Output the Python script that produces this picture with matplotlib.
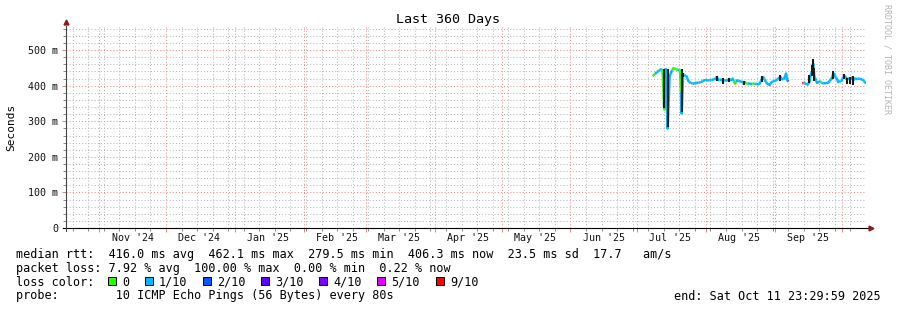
import numpy as np
import pandas as pd
import matplotlib
matplotlib.use("Agg")
import matplotlib.pyplot as plt
import matplotlib.dates as mdates
from matplotlib.ticker import MultipleLocator, NullFormatter
from matplotlib.collections import LineCollection
from matplotlib.patches import Rectangle
from datetime import datetime

plt.rcParams['font.family'] = 'DejaVu Sans Mono'

# time range of the graph
start = datetime(2024, 10, 16, 23, 29, 59)
end = datetime(2025, 10, 11, 23, 29, 59)
t0 = datetime(2025, 7, 1)

# first block of data: days after 1 Jul 2025, median rtt (ms), lost pings (of 10)
seg1_days = [7.0, 7.7, 8.5, 9.3, 10.0, 10.7, 11.4, 12.2, 12.9, 13.7, 14.6, 15.4, 16.2, 17.0,
             17.7, 18.5, 19.3, 20.0, 20.7, 21.5, 22.3, 23.0, 23.7, 24.5, 25.3, 26.0, 27.0,
             28.0, 29.0, 30.0, 31.0, 32.0, 33.0, 34.0, 35.0, 35.8, 36.5, 37.5, 38.8, 39.5,
             40.5, 41.5, 42.3, 43.0, 44.0, 45.0, 46.0, 47.3, 48.3, 49.3, 50.3, 51.3, 52.3,
             53.3, 54.3, 55.2, 56.0, 56.8, 57.5, 58.5, 59.5, 60.5, 61.5, 62.5, 63.5, 64.5,
             65.3, 66.2, 67.0, 67.6, 68.1]
seg1_rtt = [427, 431, 436, 440, 443, 446, 444, 333, 447, 280, 426, 439, 449, 448,
            446, 444, 443, 322, 430, 429, 426, 414, 409, 407, 406, 407, 408,
            409, 411, 415, 416, 415, 416, 417, 419, 424, 416, 417, 414, 415,
            415, 418, 416, 420, 406, 415, 413, 410, 410, 406, 406, 405, 406,
            405, 404, 406, 418, 424, 415, 406, 402, 410, 413, 415, 420, 424,
            418, 420, 434, 415, 412]
seg1_loss = [0, 0, 1, 1, 1, 1, 0, 0, 1, 1, 1, 1, 0, 0,
             0, 1, 0, 1, 1, 1, 1, 1, 1, 1, 1, 1, 1,
             1, 1, 1, 1, 1, 1, 1, 1, 1, 1, 1, 1, 1,
             1, 1, 1, 1, 0, 1, 1, 1, 1, 0, 1, 1, 0,
             1, 1, 1, 1, 1, 1, 1, 1, 1, 1, 1, 1, 1,
             1, 1, 1, 1, 3]

# second block of data
seg2_days = [74.3, 75.2, 76.0, 76.7, 77.5, 78.2, 78.7, 79.2, 79.7, 80.2, 80.9, 81.6, 82.2,
             82.7, 83.5, 84.5, 85.5, 86.2, 86.8, 87.5, 88.2, 88.8, 89.3, 89.8, 90.5, 91.3,
             92.0, 92.8, 93.3, 93.8, 94.3, 95.0, 95.8, 96.5, 97.3, 98.0, 98.8, 99.5, 100.3,
             101.0, 101.8, 102.5, 103.0]
seg2_rtt = [407, 408, 405, 403, 410, 433, 440, 462, 426, 420, 408, 410, 412,
            410, 407, 407, 408, 409, 415, 420, 432, 433, 424, 420, 410, 412,
            415, 424, 428, 424, 418, 420, 418, 422, 416, 420, 419, 420, 419,
            418, 415, 410, 406]
seg2_loss = [9, 1, 1, 1, 1, 1, 1, 1, 1, 1, 1, 1, 1,
             0, 1, 1, 1, 1, 1, 1, 1, 1, 1, 1, 1, 1,
             1, 1, 1, 1, 1, 1, 1, 1, 1, 1, 1, 1, 1,
             1, 1, 1, 1]

# smoke (spread of the pings) where it shows
smoke_days = [12.2, 13.7, 20.0, 20.7, 35.8, 38.8, 41.5, 48.3, 56.0, 64.5,
              77.5, 78.5, 79.2, 79.7, 88.2, 93.3, 94.3, 95.8, 97.3]
smoke_lo = [337, 284, 326, 424, 412, 404, 410, 402, 411, 414,
            408, 428, 440, 414, 420, 418, 405, 406, 402]
smoke_hi = [446, 448, 446, 436, 427, 422, 421, 414, 426, 430,
            430, 458, 474, 450, 441, 432, 421, 424, 426]

loss_colors = {0: '#26ff00', 1: '#00b8ff', 2: '#0059ff', 3: '#5e00ff',
               4: '#7e00ff', 5: '#dd00ff', 9: '#ff0000'}
legend_keys = [0, 1, 2, 3, 4, 5, 9]
legend_names = ['0', '1/10', '2/10', '3/10', '4/10', '5/10', '9/10']

y_ticks = [0, 100, 200, 300, 400, 500]
y_labels = ['0', '100 m', '200 m', '300 m', '400 m', '500 m']
month_labels = ["Nov '24", "Dec '24", "Jan '25", "Feb '25", "Mar '25", "Apr '25",
                "May '25", "Jun '25", "Jul '25", "Aug '25", "Sep '25"]
month_starts = pd.date_range('2024-11-01', periods=len(month_labels), freq='MS')

W, H = 897, 310
fig = plt.figure(figsize=(W / 100, H / 100), dpi=100)
ax = fig.add_axes([66 / W, 1 - 228 / H, 800 / W, 201 / H])

base = mdates.date2num(t0)


def median_segments(days, rtt, loss):
    x = base + np.array(days)
    y = np.array(rtt, dtype=float)
    segs, cols = [], []
    for i in range(len(x)):
        pts = []
        if i > 0:
            pts.append(((x[i - 1] + x[i]) / 2, (y[i - 1] + y[i]) / 2))
        pts.append((x[i], y[i]))
        if i < len(x) - 1:
            pts.append(((x[i] + x[i + 1]) / 2, (y[i] + y[i + 1]) / 2))
        segs.append(pts)
        cols.append(loss_colors[loss[i]])
    return segs, cols


for d, r, l in [(seg1_days, seg1_rtt, seg1_loss), (seg2_days, seg2_rtt, seg2_loss)]:
    segs, cols = median_segments(d, r, l)
    ax.add_collection(LineCollection(segs, colors=cols, linewidths=1.8,
                                     capstyle='butt', zorder=3))

ax.vlines(base + np.array(smoke_days), smoke_lo, smoke_hi,
          color='#1c1c1c', lw=1.5, zorder=4)

ax.set_xlim(mdates.date2num(start), mdates.date2num(end))
ax.set_ylim(0, 565)

# grid
ax.xaxis.set_major_locator(mdates.MonthLocator())
ax.xaxis.set_minor_locator(mdates.WeekdayLocator(byweekday=mdates.SU))
ax.xaxis.set_major_formatter(NullFormatter())
ax.set_yticks(y_ticks)
ax.set_yticklabels(y_labels)
ax.yaxis.set_minor_locator(MultipleLocator(20))
ax.grid(which='minor', color='#b8b8b8', linestyle=(0, (1, 2)), lw=0.75)
ax.grid(which='major', color='#f08c8c', linestyle=(0, (1, 2)), lw=0.75)
ax.set_axisbelow(True)

ax.tick_params(axis='y', which='major', length=3, width=0.7, color='#e08080',
               labelsize=7.2, pad=2.5, labelcolor='#111111')
ax.tick_params(axis='y', which='minor', length=2, width=0.7, color='#888888')
ax.tick_params(axis='x', which='major', length=3, width=0.7, color='#e08080', labelbottom=False)
ax.tick_params(axis='x', which='minor', length=2, width=0.7, color='#888888')

for s in ax.spines.values():
    s.set_visible(False)

# axis lines with arrows
ax.plot([-3 / 800, 1 + 3 / 800], [0, 0], transform=ax.transAxes, clip_on=False,
        color='black', lw=0.8, zorder=6)
ax.plot([1 + 5 / 800], [0], transform=ax.transAxes, clip_on=False, marker='>',
        color='#8b1a1a', markersize=3.5, zorder=7)
ax.plot([0, 0], [-3 / 201, 1 + 1 / 201], transform=ax.transAxes, clip_on=False,
        color='#444444', lw=0.8, zorder=6)
ax.plot([0], [1 + 5 / 201], transform=ax.transAxes, clip_on=False, marker='^',
        color='#8b1a1a', markersize=3.5, zorder=7)

# month labels in the middle of each month
for m, lab in zip(month_starts, month_labels):
    ax.text(mdates.date2num(m) + 15, -13 / 201, lab, transform=ax.get_xaxis_transform(),
            ha='center', va='baseline', fontsize=7.2, color='#111111')


def fx(px):
    return px / W


def fy(py):
    return 1 - py / H


fig.text(fx(448), fy(23), 'Last 360 Days', ha='center', va='baseline', fontsize=9.6)
fig.text(fx(11), fy(127), 'Seconds', rotation=90, ha='center', va='center', fontsize=8)
fig.text(fx(887), fy(4), 'RRDTOOL / TOBI OETIKER', rotation=270, ha='center', va='top',
         fontsize=6.0, color='#b4b4b4')

fs = 8.5
fig.text(fx(16), fy(258), 'median rtt:  416.0 ms avg  462.1 ms max  279.5 ms min  '
         '406.3 ms now  23.5 ms sd  17.7   am/s', fontsize=fs, va='baseline')
fig.text(fx(16), fy(272), 'packet loss: 7.92 % avg  100.00 % max  0.00 % min  0.22 % now',
         fontsize=fs, va='baseline')
fig.text(fx(16), fy(285.5), 'loss color:', fontsize=fs, va='baseline')
box_x = [108, 145, 203, 261, 319, 377, 436]
for bx, k, name in zip(box_x, legend_keys, legend_names):
    fig.patches.append(Rectangle((fx(bx), fy(285)), 8 / W, 8 / H, transform=fig.transFigure,
                                 facecolor=loss_colors[k], edgecolor='black', lw=0.7))
    fig.text(fx(bx + 14), fy(285.5), name, fontsize=fs, va='baseline')
fig.text(fx(16), fy(299.5), 'probe:        10 ICMP Echo Pings (56 Bytes) every 80s',
         fontsize=fs, va='baseline')
fig.text(fx(881), fy(299.5), 'end: Sat Oct 11 23:29:59 2025', fontsize=fs,
         va='baseline', ha='right')

fig.savefig('out.png', dpi=100)
